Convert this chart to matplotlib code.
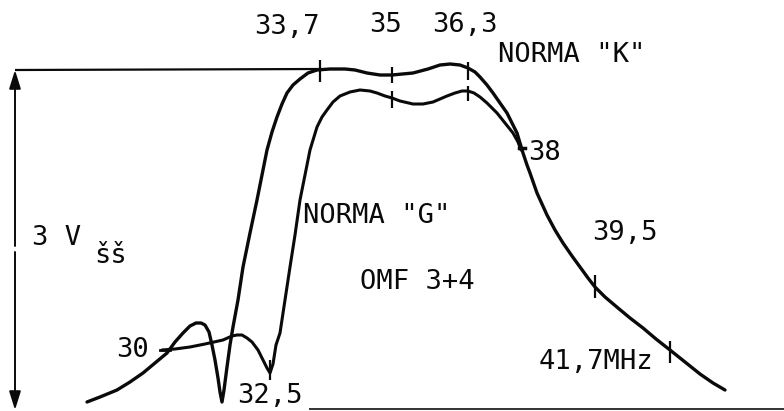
import matplotlib
matplotlib.use("Agg")
import matplotlib.pyplot as plt

# ---- data (sketch coordinates: x to the right, y downward) ----
# upper curve, NORMA "K" (including the common tail)
k_x = [87, 100, 117, 130, 143, 155, 167, 175, 183, 190, 196, 201, 205, 209, 212, 215, 218, 220, 222,
       224, 227, 230, 233, 238, 243, 250, 257, 262, 267, 272, 277, 282, 287, 293, 300, 308, 317,
       330, 345, 355, 367, 380, 392, 413, 428, 440, 450, 460, 468, 475, 480, 487, 493, 500, 507,
       512, 517, 520, 523, 527, 530, 537, 547, 555, 563, 572, 580, 588, 595, 605, 618, 630, 643,
       656, 670, 685, 700, 713, 725]
k_y = [402, 397, 390, 382, 373, 363, 353, 342, 333, 326, 323, 323, 325, 332, 345, 360, 378, 392, 402,
       390, 367, 345, 327, 300, 267, 233, 200, 175, 150, 132, 117, 104, 93, 85, 79, 73, 70,
       69, 69, 70, 73, 75, 75, 73, 69, 65, 64, 65, 68, 72, 77, 85, 93, 103, 113,
       123, 133, 143, 153, 165, 173, 193, 215, 230, 243, 256, 267, 278, 287, 297, 308, 318, 328,
       339, 350, 362, 374, 383, 390]

# lower curve, NORMA "G" (joins K near 38 MHz)
g_x = [162, 175, 190, 205, 223, 232, 237, 242, 247, 252, 258, 263, 267, 270, 273, 276, 280, 285, 290, 295,
       300, 305, 310, 317, 322, 327, 333, 340, 350, 360, 370, 377, 385, 392, 400, 413, 423, 433,
       440, 447, 455, 462, 468, 474, 480, 487, 497, 505, 513, 518, 521]
g_y = [350, 349, 347, 344, 340, 336, 335, 335, 338, 342, 350, 360, 368, 373, 364, 345, 333, 300, 267, 235,
       200, 175, 150, 127, 117, 110, 102, 96, 92, 90, 91, 93, 96, 98, 101, 104, 104, 102,
       99, 96, 93, 91, 91, 93, 97, 103, 113, 123, 133, 142, 150]

# frequency marks (vertical ticks) on the curves
tick_x = [320, 392, 468, 392, 468, 595, 670, 270]
tick_y0 = [60, 67, 62, 91, 86, 275, 341, 360]
tick_y1 = [82, 83, 80, 108, 101, 298, 363, 380]

# labels (centre positions)
freq_labels = ["33,7", "35", "36,3", "38", "39,5", "41,7MHz", "30", "32,5"]
freq_lx = [287, 386, 465, 545, 625, 596, 133, 270]
freq_ly = [27, 25, 25, 153, 233, 362, 350, 396]

other_labels = ['NORMA "K"', 'NORMA "G"', "OMF 3+4", "3 V", "šš"]
other_lx = [572, 377, 417, 57, 111]
other_ly = [55, 216, 282, 238, 256]

# ---- figure ----
fig = plt.figure(figsize=(7.84, 4.11), dpi=100)
ax = fig.add_axes([0, 0, 1, 1])
ax.set_xlim(0, 784)
ax.set_ylim(411, 0)
ax.axis("off")

ink = "#0a0a0a"

# reference level line and amplitude arrow
ax.plot([15, 322], [70, 69], color=ink, lw=1.6, solid_capstyle="butt")
ax.annotate("", xy=(15, 70), xytext=(15, 246),
            arrowprops=dict(arrowstyle="-|>,head_length=0.8,head_width=0.25", color=ink, lw=1.4,
                            mutation_scale=14, shrinkA=0, shrinkB=0))
ax.annotate("", xy=(15, 410), xytext=(15, 252),
            arrowprops=dict(arrowstyle="-|>,head_length=0.8,head_width=0.25", color=ink, lw=1.4,
                            mutation_scale=14, shrinkA=0, shrinkB=0))
# baseline at bottom
ax.plot([310, 784], [409, 409], color="#333333", lw=1.4)

# curves
ax.plot(k_x, k_y, color=ink, lw=2.4, solid_joinstyle="round", solid_capstyle="round")
ax.plot(g_x, g_y, color=ink, lw=2.2, solid_joinstyle="round", solid_capstyle="round")

# ticks
ax.vlines(tick_x, tick_y0, tick_y1, color=ink, lw=1.6)
ax.plot([160, 170], [350, 350], color=ink, lw=2.0)   # mark at 30 MHz
ax.plot([519, 525], [148, 148], color=ink, lw=2.5)   # mark at 38 MHz

font = dict(family="DejaVu Sans Mono", fontsize=19.5, color=ink, ha="center", va="center")
for s, x, y in zip(freq_labels, freq_lx, freq_ly):
    ax.text(x, y, s, **font)
for s, x, y in zip(other_labels, other_lx, other_ly):
    ax.text(x, y, s, **font)

fig.savefig("out.png", dpi=100, facecolor="white")
